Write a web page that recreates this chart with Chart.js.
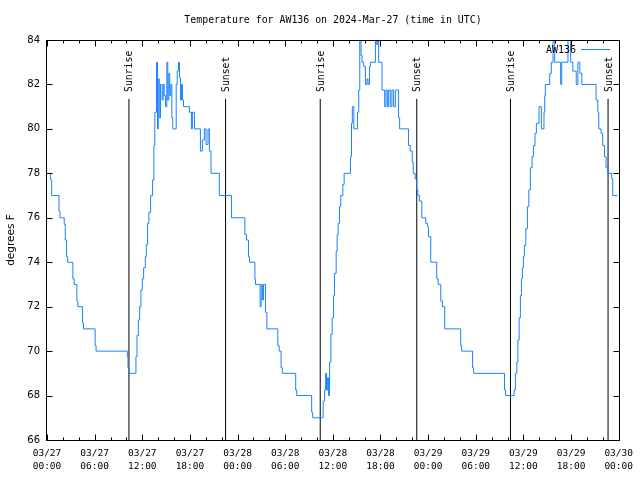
<!DOCTYPE html>
<html><head><meta charset="utf-8">
<script src="https://cdn.jsdelivr.net/npm/chart.js@4"></script>
<style>html,body{margin:0;padding:0;background:#fff}#wrap{width:640px;height:480px}</style>
</head><body><div id="wrap"><canvas id="c" width="640" height="480"></canvas></div>
<script>
const titleText = 'Temperature for AW136 on 2024-Mar-27 (time in UTC)';
const seriesName = 'AW136';
const yAxisTitle = 'degrees F';
// hours since 2024-03-27 00:00 UTC
const hours = [0.00,0.46,0.59,1.51,1.63,2.17,2.30,2.47,2.60,3.26,3.42,3.76,3.89,4.48,4.60,6.06,6.18,10.12,10.20,10.32,
11.20,11.33,11.50,11.67,11.83,12.00,12.17,12.38,12.51,12.67,12.83,13.05,13.30,13.46,13.58,13.80,13.92,14.01,14.14,14.30,
14.51,14.64,14.76,14.93,15.09,15.21,15.34,15.46,15.59,15.72,15.84,16.27,16.40,16.56,16.68,16.81,16.93,17.06,17.19,17.94,
18.19,18.31,18.57,19.32,19.57,19.82,20.03,20.28,20.45,20.66,21.70,23.24,24.92,25.12,25.38,25.50,26.18,26.25,26.84,26.97,
27.13,27.26,27.51,27.69,29.07,29.23,29.48,29.64,31.32,31.45,33.33,33.46,34.78,34.96,35.09,35.21,35.34,35.46,35.59,35.75,
35.91,36.09,36.21,36.42,36.54,36.67,36.84,37.00,37.26,37.42,38.22,38.35,38.45,38.64,39.10,39.26,39.39,39.55,39.68,39.89,
40.10,40.30,40.43,40.61,40.73,41.36,41.52,41.65,41.77,42.19,42.53,42.69,42.86,43.03,43.24,43.44,43.65,43.87,44.28,44.41,
45.53,45.75,46.00,46.12,46.37,46.57,46.70,46.91,47.20,47.70,47.92,48.04,48.33,49.08,49.26,49.59,49.80,50.09,52.10,52.22,
53.60,53.73,57.62,57.74,58.83,58.99,59.17,59.30,59.46,59.62,59.75,59.87,60.00,60.12,60.30,60.50,60.68,60.88,61.09,61.26,
61.46,61.63,61.97,62.26,62.59,62.68,62.76,63.31,63.51,63.73,63.94,64.69,64.82,65.61,65.95,66.23,66.65,66.86,67.11,67.36,
69.15,69.37,69.49,69.78,69.99,70.21,70.41,70.62,71.12,71.25,71.81];
const tempF = [78,77.7,77,76.3,76,75.7,75,74.25,74,73.25,73,72.25,72,71.25,71,70.25,70,69.75,69.25,69,
69.75,70.7,71.4,72,72.75,73.25,73.75,74.25,74.8,75.75,76.25,77,77.7,79.25,80.75,83,80,82.25,80.5,82,
81.3,82,81.5,81,83,81.3,82.5,81.5,82,80.5,80,82,82.6,83,82.3,81.3,82,81.3,81,80.75,
80,80.75,80,79,79.5,80,79.3,80,79,78,77,76,75.25,75,74.25,74,73.25,73,72,73,
72.3,73,71.75,71,70.25,70,69.25,69,68.25,68,67.25,67,67.75,68.25,69,68.25,68.8,68,69.5,70.75,
71.5,72.5,73.5,74.5,75.25,75.75,76.5,77,77.5,78,78.75,80.25,81,80,80.75,81.75,84.5,83.3,83,82.8,
82,82.25,82,82.8,83,84.5,83.8,84.5,83,81.75,81,81.75,81,81.75,81,81.75,81,81.75,80.5,80,
79.25,79,78.5,78,77.75,77.25,77,76.75,76,75.75,75.6,75.15,74,73.25,73,72.25,72,71,70.25,70,
69.25,69,68.25,68,68.25,69,69.5,70.5,71.5,72.5,73.25,73.75,74.25,74.75,75.5,76.5,77.25,78.25,78.75,79.25,
79.8,80.25,81,80,80.75,81.5,82,82.5,83,84.5,83,82,83,84.5,83,82.6,82,83,82.5,82,
81.3,80.75,80,79.8,79.25,78.75,78.25,78,77.75,77,77];
const sunHours = [10.32, 22.49, 34.41, 46.57, 58.37, 70.66];
const sunLabels = ['Sunrise','Sunset','Sunrise','Sunset','Sunrise','Sunset'];
const sunLineTop = 81.35;
const yTicks = [66,68,70,72,74,76,78,80,82,84];
const xTickHours = [0,6,12,18,24,30,36,42,48,54,60,66,72];
const xMinorHours = [2,4,8,10,14,16,20,22,26,28,32,34,38,40,44,46,50,52,56,58,62,64,68,70];

const LINE = '#1a80ff';
const MONO = '"DejaVu Sans Mono", "Liberation Mono", monospace';
const SANS = '"DejaVu Sans", "Liberation Sans", sans-serif';

const overlay = {
  id: 'overlay',
  afterDatasetsDraw(chart) {
    const ctx = chart.ctx, a = chart.chartArea, xs = chart.scales.x, ys = chart.scales.y;
    ctx.save();
    ctx.strokeStyle = '#000'; ctx.lineWidth = 1;
    const L = Math.round(a.left) - 0.5, R = Math.round(a.right) + 0.5, T = Math.round(a.top) + 0.5, B = Math.round(a.bottom) + 0.5;
    ctx.strokeRect(L, T, R - L, B - T);
    ctx.beginPath();
    yTicks.forEach(v => { const y = Math.round(ys.getPixelForValue(v)) + 0.5; ctx.moveTo(L, y); ctx.lineTo(L + 6, y); ctx.moveTo(R, y); ctx.lineTo(R - 6, y); });
    xTickHours.forEach(v => { const x = Math.round(xs.getPixelForValue(v)) + 0.5; ctx.moveTo(x, B); ctx.lineTo(x, B - 6); ctx.moveTo(x, T); ctx.lineTo(x, T + 6); });
    xMinorHours.forEach(v => { const x = Math.round(xs.getPixelForValue(v)) + 0.5; ctx.moveTo(x, B); ctx.lineTo(x, B - 3); ctx.moveTo(x, T); ctx.lineTo(x, T + 3); });
    ctx.stroke();
    ctx.fillStyle = '#000';
    ctx.font = '9.9px ' + MONO; ctx.textAlign = 'center'; ctx.textBaseline = 'middle';
    ctx.fillText(titleText, 333, 20);
    // y title
    ctx.save(); ctx.translate(11, 240); ctx.rotate(-Math.PI / 2);
    ctx.font = '10.5px ' + SANS; ctx.fillText(yAxisTitle, 0, 0); ctx.restore();
    // sun labels
    ctx.font = '9.8px ' + MONO;
    sunHours.forEach((h, i) => {
      const x = xs.getPixelForValue(h);
      ctx.save(); ctx.translate(x + 1, 92); ctx.rotate(-Math.PI / 2);
      ctx.textAlign = 'left'; ctx.textBaseline = 'middle'; ctx.fillText(sunLabels[i], 0, 0); ctx.restore();
    });
    // legend
    ctx.font = '10px ' + MONO; ctx.textAlign = 'right'; ctx.textBaseline = 'middle';
    ctx.fillText(seriesName, 576, 50);
    ctx.strokeStyle = LINE; ctx.beginPath(); ctx.moveTo(581, 49.5); ctx.lineTo(610, 49.5); ctx.stroke();
    ctx.restore();
  }
};

new Chart(document.getElementById('c'), {
  type: 'line',
  data: {
    datasets: [
      { label: seriesName, data: hours.map((h, i) => ({ x: h, y: tempF[i] })), borderColor: LINE, borderWidth: 1, pointRadius: 0, stepped: true, tension: 0, fill: false },
      ...sunHours.map(h => ({ label: 'sun', data: [{ x: h, y: 66 }, { x: h, y: sunLineTop }], borderColor: '#000', borderWidth: 1, pointRadius: 0, fill: false }))
    ]
  },
  options: {
    responsive: false, animation: false, devicePixelRatio: 1,
    layout: { padding: { left: 0, right: 19, top: 40, bottom: 0 } },
    plugins: { legend: { display: false }, title: { display: false }, tooltip: { enabled: false } },
    scales: {
      x: {
        type: 'linear', min: 0, max: 72,
        afterBuildTicks: s => { s.ticks = xTickHours.map(v => ({ value: v })); },
        afterFit: s => { s.height = 40; },
        ticks: {
          autoSkip: false, maxRotation: 0, padding: 7, color: '#000',
          font: { family: MONO, size: 9.5, lineHeight: 1.4 },
          callback: v => { const d = 27 + Math.floor(v / 24); const h = v % 24; return ['03/' + d, String(h).padStart(2, '0') + ':00']; }
        },
        grid: { display: false, drawTicks: false }, border: { display: false }
      },
      y: {
        min: 66, max: 84,
        afterBuildTicks: s => { s.ticks = yTicks.map(v => ({ value: v })); },
        afterFit: s => { s.width = 47; },
        ticks: { padding: 7, color: '#000', font: { family: SANS, size: 10 } },
        grid: { display: false, drawTicks: false }, border: { display: false }
      }
    }
  },
  plugins: [overlay]
});
</script></body></html>
